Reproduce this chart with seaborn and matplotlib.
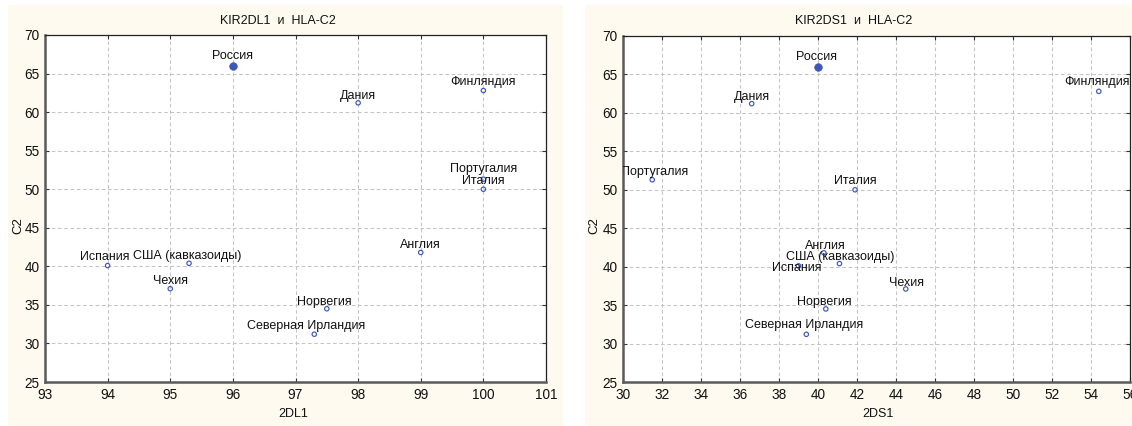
import matplotlib
matplotlib.use("Agg")
import matplotlib.pyplot as plt
from matplotlib.patches import Rectangle
import seaborn as sns
import pandas as pd

# Population frequencies (%) of KIR genes and HLA-C2 ligand
countries = ["Россия", "Дания", "Финляндия", "Португалия", "Италия", "Испания",
             "США (кавказоиды)", "Чехия", "Англия", "Норвегия", "Северная Ирландия"]
c2 = [66.0, 61.2, 62.8, 51.3, 50.0, 40.1, 40.4, 37.1, 41.8, 34.5, 31.2]
kir2dl1 = [96.0, 98.0, 100.0, 100.0, 100.0, 94.0, 95.3, 95.0, 99.0, 97.5, 97.3]
kir2ds1 = [40.0, 36.6, 54.4, 31.5, 41.9, 39.0, 41.1, 44.5, 40.3, 40.4, 39.4]
highlight = "Россия"

# label offsets in pixels (dx, dy) relative to each point
offsets_dl1 = {"Россия": (0, 10), "Дания": (0, 7), "Финляндия": (0, 9),
               "Португалия": (0, 10), "Италия": (0, 8), "Испания": (-3, 9),
               "США (кавказоиды)": (-2, 7), "Чехия": (0, 8), "Англия": (0, 7),
               "Норвегия": (-2, 7), "Северная Ирландия": (-8, 8)}
offsets_ds1 = {"Россия": (-1, 10), "Дания": (0, 7), "Финляндия": (-2, 9),
               "Португалия": (2, 8), "Италия": (0, 9), "Испания": (-2, -2),
               "США (кавказоиды)": (1, 7), "Чехия": (1, 6), "Англия": (1, 7),
               "Норвегия": (-1, 7), "Северная Ирландия": (-2, 9)}

df = pd.DataFrame({"country": countries, "C2": c2, "2DL1": kir2dl1, "2DS1": kir2ds1})
df["main"] = df["country"] == highlight

sns.set_theme(style="white")
plt.rcParams["font.family"] = ["Liberation Sans", "DejaVu Sans"]

W, H = 1132, 426
fig = plt.figure(figsize=(W / 100, H / 100), dpi=100)
fig.patch.set_facecolor("white")


def box(x0, y0, x1, y1):
    return [x0 / W, 1 - y1 / H, (x1 - x0) / W, (y1 - y0) / H]


panel_col = "#FFFAF0"
for x0, x1 in [(8, 563), (585, 1132)]:
    b = box(x0, 5, x1, 426)
    fig.patches.append(Rectangle((b[0], b[1]), b[2], b[3], transform=fig.transFigure,
                                 facecolor=panel_col, edgecolor="none", zorder=-1))

point_col = "#3D58B4"
panels = [
    dict(col="2DL1", rect=box(45, 35, 546, 382), xlim=(93, 101), xstep=1,
         offs=offsets_dl1, title="KIR2DL1  и  HLA-C2", tx=278, xl=293, yl=18),
    dict(col="2DS1", rect=box(623, 36, 1130, 382), xlim=(30, 56), xstep=2,
         offs=offsets_ds1, title="KIR2DS1  и  HLA-C2", tx=854, xl=878, yl=594),
]

for p in panels:
    ax = fig.add_axes(p["rect"])
    ax.set_facecolor("white")
    others = df[~df["main"]]
    main = df[df["main"]]
    sns.scatterplot(data=others, x=p["col"], y="C2", ax=ax, s=10, marker="o",
                    facecolor="none", edgecolor=point_col, linewidth=0.85, zorder=3)
    sns.scatterplot(data=main, x=p["col"], y="C2", ax=ax, s=30, marker="o",
                    color=point_col, edgecolor=point_col, linewidth=0.5, zorder=3)
    for _, r in df.iterrows():
        dx, dy = p["offs"][r["country"]]
        ax.annotate(r["country"], (r[p["col"]], r["C2"]), xytext=(dx, dy),
                    textcoords="offset pixels", ha="center", va="center",
                    fontsize=9, color="#111111", clip_on=True, zorder=4)
    x0, x1 = p["xlim"]
    ax.set_xlim(x0, x1)
    ax.set_ylim(25, 70)
    ax.set_xticks(range(x0, x1 + 1, p["xstep"]))
    ax.set_yticks(range(25, 71, 5))
    ax.grid(True, color="#C4C4C4", linestyle=(0, (3.5, 2.5)), linewidth=0.75)
    ax.set_axisbelow(True)
    ax.set_xlabel("")
    ax.set_ylabel("")
    ax.tick_params(axis="both", which="both", direction="in", length=3, width=0.8,
                   colors="#333333", labelcolor="#111111", labelsize=9.8,
                   top=True, right=True, left=True, bottom=True, pad=4)
    for side in ["left", "bottom"]:
        ax.spines[side].set_color("#5A5A5A")
        ax.spines[side].set_linewidth(1.8)
    for side in ["top", "right"]:
        ax.spines[side].set_color("#222222")
        ax.spines[side].set_linewidth(0.9)
    fig.text(p["tx"] / W, 1 - 21 / H, p["title"], ha="center", va="center",
             fontsize=9, color="#111111")
    fig.text(p["xl"] / W, 1 - 414 / H, p["col"], ha="center", va="center",
             fontsize=9, color="#111111")
    fig.text(p["yl"] / W, 1 - 226 / H, "C2", ha="center", va="center",
             rotation=90, fontsize=9.5, color="#111111")

fig.savefig("out.png", dpi=100, facecolor="white")
